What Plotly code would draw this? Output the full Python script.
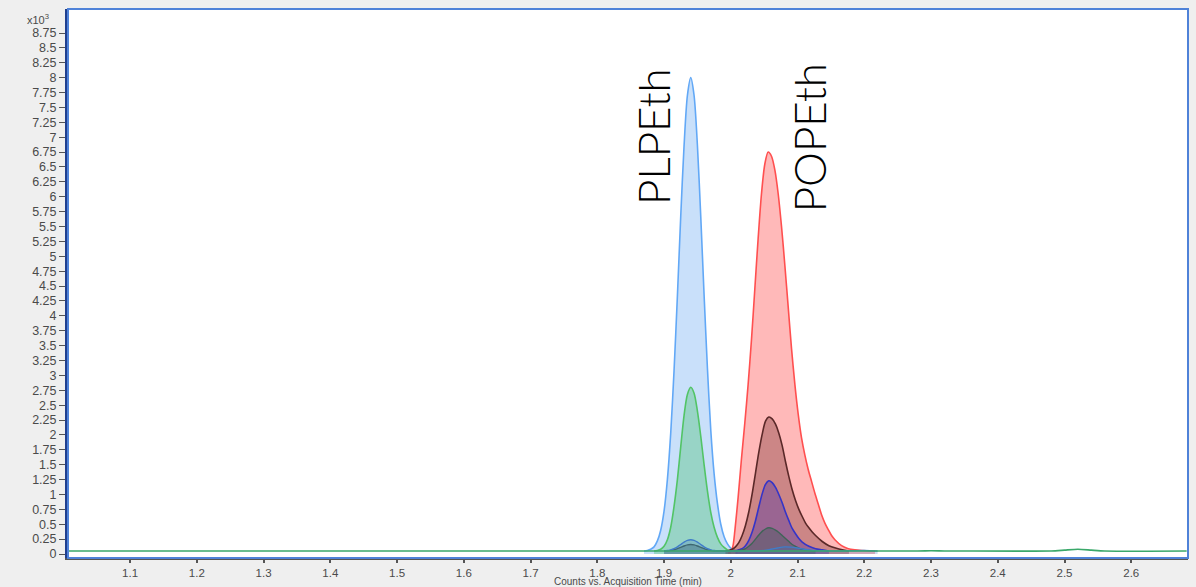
import plotly.graph_objects as go

# ---------------- data (intensity in x10^3 counts, time in min) ----------------
x_ticks = [1.1, 1.2, 1.3, 1.4, 1.5, 1.6, 1.7, 1.8, 1.9, 2.0, 2.1, 2.2, 2.3, 2.4, 2.5, 2.6]
x_tick_labels = ["1.1", "1.2", "1.3", "1.4", "1.5", "1.6", "1.7", "1.8", "1.9", "2",
                 "2.1", "2.2", "2.3", "2.4", "2.5", "2.6"]
y_ticks = [i * 0.25 for i in range(36)]
y_tick_labels = ["0", "0.25", "0.5", "0.75", "1", "1.25", "1.5", "1.75", "2", "2.25", "2.5",
                 "2.75", "3", "3.25", "3.5", "3.75", "4", "4.25", "4.5", "4.75", "5", "5.25",
                 "5.5", "5.75", "6", "6.25", "6.5", "6.75", "7", "7.25", "7.5", "7.75", "8",
                 "8.25", "8.5", "8.75"]

# PLPEth, main transition (light blue)
plpeth_main_t = [1.870, 1.875, 1.880, 1.885, 1.890, 1.895, 1.900, 1.905, 1.910, 1.915, 1.920,
                 1.925, 1.930, 1.935, 1.940, 1.945, 1.950, 1.955, 1.960, 1.965, 1.970, 1.975,
                 1.980, 1.985, 1.990, 1.995, 2.000, 2.005, 2.010]
plpeth_main_i = [0.05, 0.06, 0.08, 0.12, 0.22, 0.40, 0.72, 1.25, 2.03, 3.08, 4.33,
                 5.67, 6.86, 7.70, 8.00, 7.70, 6.86, 5.67, 4.35, 3.12, 2.08, 1.35,
                 0.85, 0.50, 0.29, 0.17, 0.10, 0.07, 0.05]

# PLPEth, second transition (green)
plpeth_q2_t = [1.885, 1.890, 1.895, 1.900, 1.905, 1.910, 1.915, 1.920, 1.925, 1.930, 1.935,
               1.940, 1.945, 1.950, 1.955, 1.960, 1.965, 1.970, 1.975, 1.980, 1.985, 1.990,
               1.995, 2.000]
plpeth_q2_i = [0.05, 0.06, 0.08, 0.13, 0.24, 0.45, 0.80, 1.25, 1.80, 2.33, 2.68,
               2.80, 2.70, 2.40, 1.98, 1.50, 1.06, 0.70, 0.45, 0.28, 0.17, 0.11,
               0.07, 0.05]

# POPEth, main transition (red)
popeth_main_t = [1.996, 2.001, 2.0035, 2.006, 2.011, 2.016, 2.021, 2.026, 2.031, 2.036, 2.041,
                 2.046, 2.051, 2.056, 2.061, 2.066, 2.071, 2.076, 2.081, 2.086, 2.091, 2.096,
                 2.101, 2.106, 2.111, 2.116, 2.121, 2.126, 2.131, 2.136, 2.141, 2.146, 2.151,
                 2.156, 2.166, 2.176, 2.186, 2.196, 2.216]
popeth_main_i = [0.05, 0.06, 0.15, 0.38, 0.95, 1.60, 2.20, 2.85, 3.60, 4.45, 5.30,
                 6.05, 6.55, 6.75, 6.68, 6.45, 6.05, 5.50, 4.85, 4.15, 3.45, 2.85,
                 2.35, 1.95, 1.66, 1.42, 1.22, 1.02, 0.84, 0.66, 0.52, 0.41, 0.31,
                 0.24, 0.14, 0.09, 0.07, 0.06, 0.05]

# POPEth, second transition (maroon)
popeth_q2_t = [1.992, 1.997, 2.002, 2.007, 2.012, 2.017, 2.022, 2.027, 2.032, 2.037, 2.042,
               2.047, 2.052, 2.057, 2.062, 2.067, 2.072, 2.077, 2.082, 2.087, 2.092, 2.097,
               2.102, 2.107, 2.112, 2.117, 2.122, 2.127, 2.137, 2.147, 2.157, 2.167, 2.177]
popeth_q2_i = [0.05, 0.06, 0.08, 0.12, 0.19, 0.31, 0.48, 0.71, 1.01, 1.36, 1.71,
               2.01, 2.23, 2.30, 2.27, 2.18, 2.03, 1.82, 1.55, 1.30, 1.08, 0.90,
               0.75, 0.63, 0.52, 0.44, 0.37, 0.31, 0.21, 0.14, 0.10, 0.07, 0.05]

# POPEth, third transition (navy)
popeth_q3_t = [2.007, 2.012, 2.017, 2.022, 2.027, 2.032, 2.037, 2.042, 2.047, 2.052, 2.057,
               2.062, 2.067, 2.072, 2.077, 2.082, 2.087, 2.092, 2.097, 2.102, 2.107, 2.117,
               2.127, 2.137, 2.147]
popeth_q3_i = [0.05, 0.07, 0.09, 0.14, 0.23, 0.37, 0.56, 0.79, 1.01, 1.17, 1.23,
               1.20, 1.12, 1.00, 0.86, 0.70, 0.56, 0.43, 0.34, 0.26, 0.20, 0.13,
               0.09, 0.07, 0.05]

# slate transition (small peaks at 1.94 and 2.06)
slate_t = [1.900, 1.905, 1.910, 1.915, 1.920, 1.925, 1.930, 1.935, 1.940, 1.945, 1.950,
           1.955, 1.960, 1.965, 1.970, 1.975, 1.980,
           2.007, 2.012, 2.017, 2.022, 2.027, 2.032, 2.037, 2.042, 2.047, 2.052, 2.057,
           2.062, 2.067, 2.072, 2.077, 2.082, 2.087, 2.092, 2.097, 2.102, 2.107, 2.117, 2.127]
slate_i = [0.052, 0.055, 0.061, 0.072, 0.090, 0.112, 0.135, 0.153, 0.160, 0.153, 0.135,
           0.112, 0.090, 0.072, 0.061, 0.055, 0.052,
           0.05, 0.06, 0.07, 0.09, 0.13, 0.18, 0.25, 0.32, 0.38, 0.42, 0.44,
           0.43, 0.40, 0.36, 0.31, 0.26, 0.21, 0.16, 0.13, 0.10, 0.08, 0.06, 0.05]

# steel-blue transition (small peaks)
steel_t = [1.900, 1.905, 1.910, 1.915, 1.920, 1.925, 1.930, 1.935, 1.940, 1.945, 1.950,
           1.955, 1.960, 1.965, 1.970, 1.975, 1.980,
           2.040, 2.050, 2.060, 2.070, 2.080, 2.090, 2.100, 2.110, 2.120, 2.140, 2.160,
           2.200, 2.220]
steel_i = [0.053, 0.058, 0.070, 0.090, 0.120, 0.160, 0.200, 0.230, 0.240, 0.230, 0.200,
           0.160, 0.120, 0.090, 0.070, 0.058, 0.053,
           0.05, 0.06, 0.08, 0.10, 0.12, 0.115, 0.10, 0.08, 0.065, 0.055, 0.05,
           0.06, 0.05]

# baseline (green) over the full run
base_t = [1.007, 2.280, 2.300, 2.320, 2.340, 2.480, 2.500, 2.520, 2.540, 2.560, 2.683]
base_i = [0.05, 0.05, 0.055, 0.05, 0.05, 0.05, 0.065, 0.08, 0.065, 0.05, 0.05]

peak_labels = ["PLPEth", "POPEth"]
peak_label_t = [1.8826, 2.1165]
peak_label_i = [7.01, 6.99]

# ---------------- figure ----------------
fig = go.Figure()

def add_peak(t, i, line_color, fill_color, width=1.6):
    fig.add_trace(go.Scatter(
        x=t, y=i, mode="lines",
        line=dict(color=line_color, width=width, shape="spline", smoothing=0.8),
        fill="tozeroy", fillcolor=fill_color, hoverinfo="skip", showlegend=False))

add_peak(plpeth_main_t, plpeth_main_i, "#62a8f6", "rgba(100,165,240,0.35)")
add_peak(plpeth_q2_t, plpeth_q2_i, "#52c466", "rgba(60,190,100,0.35)")
add_peak(popeth_main_t, popeth_main_i, "#ff4f4f", "rgba(255,80,80,0.40)")
add_peak(popeth_q2_t, popeth_q2_i, "#5a2828", "rgba(110,40,40,0.35)")
add_peak(popeth_q3_t, popeth_q3_i, "#3434c8", "rgba(60,40,170,0.35)")
add_peak(slate_t, slate_i, "#3f6457", "rgba(50,90,80,0.35)", 1.4)
add_peak(steel_t, steel_i, "#3f7cc8", "rgba(60,110,190,0.25)", 1.4)

fig.add_trace(go.Scatter(
    x=base_t, y=base_i, mode="lines",
    line=dict(color="#3aa86a", width=1.6, shape="spline", smoothing=0.6),
    hoverinfo="skip", showlegend=False))

for lab, t, v in zip(peak_labels, peak_label_t, peak_label_i):
    fig.add_annotation(x=t, y=v, xref="x", yref="y", text=lab, showarrow=False,
                       textangle=-90, xanchor="center", yanchor="middle",
                       font=dict(family="Lato", size=44, color="#000000", weight=300))

fig.add_annotation(x=-0.0268, y=0.981, xref="paper", yref="paper",
                   text="x10<sup>3</sup>", showarrow=False, xanchor="center", yanchor="middle",
                   font=dict(family="Liberation Sans", size=11, color="#4a4a4a"))
fig.add_annotation(x=0.5, y=-0.0428, xref="paper", yref="paper",
                   text="Counts vs. Acquisition Time (min)", showarrow=False,
                   xanchor="center", yanchor="middle",
                   font=dict(family="Liberation Sans", size=10, color="#4a4a4a"))

# blue frame round the plotting area
fig.add_shape(type="rect", xref="paper", yref="paper", x0=0, x1=1, y0=0, y1=1,
              line=dict(color="#4f82d8", width=2), layer="above")

fig.update_layout(
    width=1196, height=587,
    margin=dict(l=68, r=8, t=9, b=29, autoexpand=False),
    paper_bgcolor="#efefef", plot_bgcolor="#ffffff",
    font=dict(family="Liberation Sans", size=12, color="#4a4a4a"),
    showlegend=False,
)
fig.update_xaxes(
    range=[1.007, 2.685], tickmode="array", tickvals=x_ticks, ticktext=x_tick_labels,
    ticks="outside", ticklen=3, tickwidth=1.5, tickcolor="#555555",
    showline=True, linecolor="#555555", linewidth=1.5, automargin=False,
    showgrid=False, zeroline=False,
    tickfont=dict(family="Liberation Sans", size=11.5, color="#4a4a4a"),
)
fig.update_yaxes(
    range=[-0.067, 9.153], tickmode="array", tickvals=y_ticks, ticktext=y_tick_labels,
    ticks="outside", ticklen=6, tickwidth=1.2, tickcolor="#555555",
    showline=True, linecolor="#1f3f8f", linewidth=3, automargin=False,
    showgrid=False, zeroline=False,
    tickfont=dict(family="Liberation Sans", size=12.5, color="#4a4a4a"),
)

fig.write_html("out.html", config={"displayModeBar": False},
               post_script="document.body.style.margin='0';document.body.style.background='#efefef';")
